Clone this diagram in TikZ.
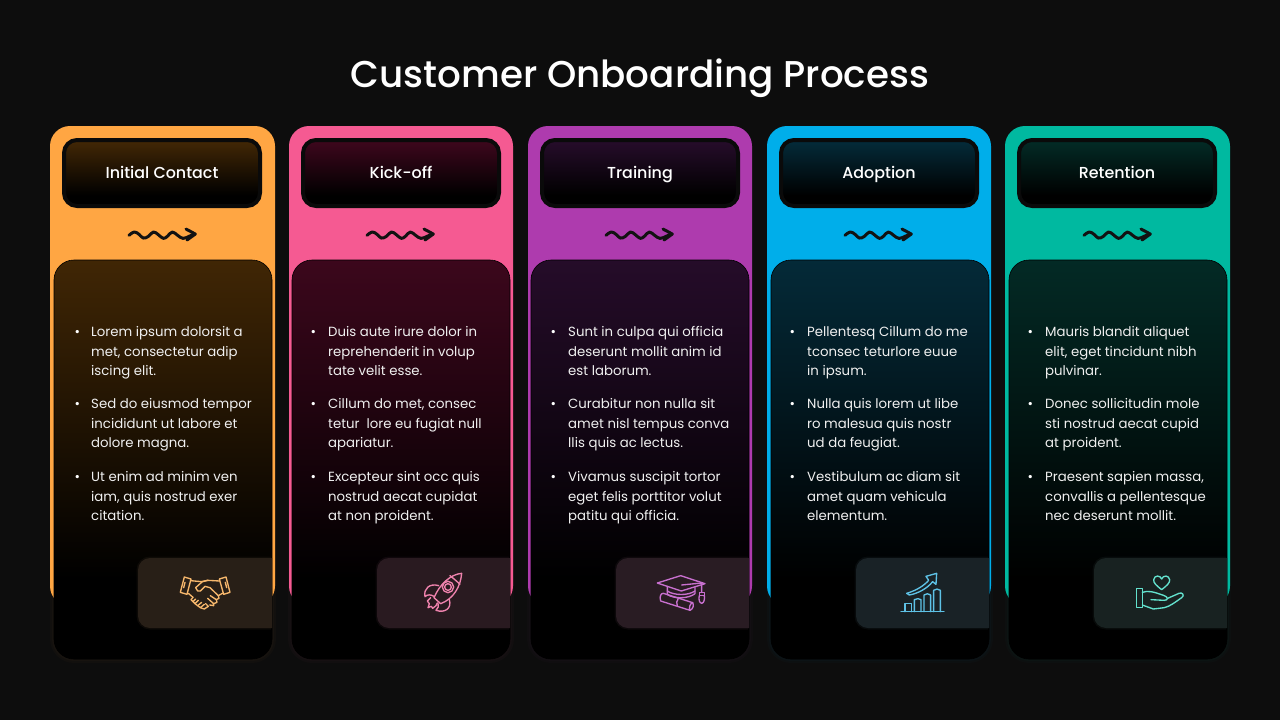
\documentclass[tikz,border=0pt]{standalone}
\usepackage{fontspec}
\setmainfont{Poppins}
\newfontfamily\medfont{Poppins Medium}
\definecolor{pagebg}{HTML}{0D0D0D}
\definecolor{orangeC}{HTML}{FFA643}\definecolor{orangeT}{HTML}{402605}\definecolor{orangeB}{HTML}{281F17}\definecolor{orangeI}{HTML}{F6B76C}
\definecolor{pinkC}{HTML}{F55A92}\definecolor{pinkT}{HTML}{3C071C}\definecolor{pinkB}{HTML}{291A20}\definecolor{pinkI}{HTML}{EE82AD}
\definecolor{purpleC}{HTML}{AE3BAE}\definecolor{purpleT}{HTML}{250C29}\definecolor{purpleB}{HTML}{291C23}\definecolor{purpleI}{HTML}{C870CF}
\definecolor{blueC}{HTML}{00AEEA}\definecolor{blueT}{HTML}{042A38}\definecolor{blueB}{HTML}{192226}\definecolor{blueI}{HTML}{5EC2E6}
\definecolor{tealC}{HTML}{00B9A0}\definecolor{tealT}{HTML}{032A25}\definecolor{tealB}{HTML}{182221}\definecolor{tealI}{HTML}{63E2CE}
\colorlet{tintc}{orangeT}
\pgfdeclareverticalshading[tintc]{panelshade}{100bp}{color(0bp)=(black); color(35bp)=(black); color(75bp)=(tintc); color(100bp)=(tintc)}
\pgfdeclareverticalshading[tintc]{headshade}{100bp}{color(0bp)=(black); color(33bp)=(black); color(73bp)=(tintc); color(100bp)=(tintc)}
\tikzset{
  x=1pt,y=-1pt,
  cardshape/.style={rounded corners=20pt},
  panelshape/.style={rounded corners=20pt,shading=panelshade,draw=black,line width=.6pt},
  headshape/.style={rounded corners=13pt,shading=headshade,draw=black!96!white,line width=4pt},
  headlabel/.style={font=\medfont\fontsize{15.9}{20}\selectfont,text=white,inner sep=0pt,anchor=base},
  wave/.style={draw=black!93!white,line width=3pt,line cap=round,line join=round},
  bodytext/.style={font=\fontsize{13.3}{19.5}\selectfont,text=white!94!black,align=left,anchor=north west,inner sep=0pt},
  bulletmark/.style={font=\fontsize{13.3}{19.5}\selectfont,text=white,anchor=north west,inner sep=0pt},
  iconline/.style={line width=1.35pt,line cap=round,line join=round},
}
% #1 id, #2 colour stem, #3 card left, #4 card right, #5 panel left, #6 header left, #7 arrow left, #8 icon-box left, #9 title
\newcommand\stagecard[9]{%
  \colorlet{tintc}{#2T}
  \fill[#2C!2!pagebg,rounded corners=24pt] (#5-4,400) rectangle (#5+222,663);
  \fill[#2C!4!pagebg,rounded corners=22pt] (#5-2,400) rectangle (#5+220,661);
  \path[fill=#2C,cardshape] (#3,126) rectangle (#4,606);
  \path[headshape] (#6+2,140) rectangle (#6+198,206);
  \node[headlabel] (#1title) at (#6+100,178) {#9};
  \draw[wave,shift={(#7-13,220.7)},scale=.3333]
    plot[smooth,tension=.75] coordinates {(42,44)(58,34)(72,41)(85,52)(100,47)(115,34)(130,42)(145,53)(158,46)(172,34)(188,44)(204,53)(222,47)(238,40)};
  \draw[wave,shift={(#7-13,220.7)},scale=.3333] (213,25)--(241,40)--(216,58);
  \path[panelshape] (#5,260) rectangle (#5+218,659);
  \draw[#2B,opacity=.3,line width=3pt,rounded corners=12pt] (#5+217,558) -- (#8,558) -- (#8,628) -- (#5+217,628);
  \fill[#2B] (#5+218,558) [rounded corners=12pt] -- (#8,558) -- (#8,628) [sharp corners] -- (#5+218,628) -- cycle;
}
% #1 id #2 bullet x #3 text x #4 #5 #6 paragraphs
\newcommand\stagetext[6]{%
  \node[bulletmark] (#1ba) at (#2,326) {\rule{0pt}{10pt}•};
  \node[bulletmark] (#1bb) at (#2,398) {\rule{0pt}{10pt}•};
  \node[bulletmark] (#1bc) at (#2,471) {\rule{0pt}{10pt}•};
  \node[bodytext] (#1a) at (#3,326.4) {\rule{0pt}{10pt}#4};
  \node[bodytext] (#1b) at (#3,398.4) {\rule{0pt}{10pt}#5};
  \node[bodytext] (#1c) at (#3,471.4) {\rule{0pt}{10pt}#6};
}
\begin{document}
\begin{tikzpicture}
\useasboundingbox (0,0) rectangle (1280,720);
\fill[pagebg] (0,0) rectangle (1280,720);
\node[font=\medfont\fontsize{37.3}{44}\selectfont,text=white,inner sep=0pt,anchor=base] (title) at (640,87) {Customer Onboarding Process};

\stagecard{s1}{orange}{50}{275}{54}{62}{128}{138}{Initial Contact}
\stagecard{s2}{pink}{289}{513}{292}{301}{366}{377}{Kick-off}
\stagecard{s3}{purple}{528}{752}{531}{540}{605}{616}{Training}
\stagecard{s4}{blue}{767}{991}{771}{779}{844}{856}{Adoption}
\stagecard{s5}{teal}{1005}{1230}{1009}{1017}{1083}{1094}{Retention}

\stagetext{s1}{74.5}{91}{Lorem ipsum dolorsit a\\met, consectetur adip\\iscing elit.}{Sed do eiusmod tempor\\incididunt ut labore et\\dolore magna.}{Ut enim ad minim ven\\iam, quis nostrud exer\\citation.}
\stagetext{s2}{310.5}{328}{Duis aute irure dolor in\\reprehenderit in volup\\tate velit esse.}{Cillum do met, consec\\tetur\ \ lore eu fugiat null\\apariatur.}{Excepteur sint occ quis\\nostrud aecat cupidat\\at non proident.}
\stagetext{s3}{550.5}{568}{Sunt in culpa qui officia\\deserunt mollit anim id\\est laborum.}{Curabitur non nulla sit\\amet nisl tempus conva\\llis quis ac lectus.}{Vivamus suscipit tortor\\eget felis porttitor volut\\patitu qui officia.}
\stagetext{s4}{789.5}{807}{Pellentesq Cillum do me\\tconsec teturlore euue\\in ipsum.}{Nulla quis lorem ut libe\\ro malesua quis nostr\\ud da feugiat.}{Vestibulum ac diam sit\\amet quam vehicula\\elementum.}
\stagetext{s5}{1027.5}{1045}{Mauris blandit aliquet\\elit, eget tincidunt nibh\\pulvinar.}{Donec sollicitudin mole\\sti nostrud aecat cupid\\at proident.}{Praesent sapien massa,\\convallis a pellentesque\\nec deserunt mollit.}

% handshake (coordinates: 3x crop of the icon)
\begin{scope}[shift={(165,565)},scale=.3333,iconline,draw=orangeI]
  \draw (58,36)--(78,42)--(66,88)--(46,82)--cycle;
  \draw (60,52)--(56,68);
  \draw (163,42)--(183,36)--(195,82)--(176,88)--cycle;
  \draw (181,52)--(185,68);
  \draw (77,47)--(110,50)--(128,46)--(164,48);
  \draw (128,46)--(112,50)--(92,68)--(98,78)--(106,78)--(120,64)--(135,68)--(160,92);
  \draw (70,85)--(84,97);
  \draw (174,84)--(160,92)--(162,100)--(154,104)--(156,112)--(146,116)--(146,122)--(134,120);
  \draw (84,97)--(78,104)--(84,110)--(92,102);
  \draw (84,110)--(90,116)--(100,106);
  \draw (90,116)--(98,122)--(110,112);
  \draw (98,122)--(106,128)--(118,118);
  \draw (106,128)--(118,132)--(130,124)--(122,116);
  \draw (136,92)--(154,104);
  \draw (128,100)--(146,116);
\end{scope}
% rocket
\begin{scope}[shift={(370,555)},scale=.3333,iconline,draw=pinkI]
  \draw (275,55) .. controls (240,58) and (208,90) .. (192,128) -- (212,146) .. controls (250,132) and (272,95) .. (275,55) -- cycle;
  \draw (240,62) .. controls (250,70) and (262,80) .. (270,88);
  \draw (234,96) circle (17);
  \draw (234,96) circle (10);
  \draw (206,92) .. controls (180,84) and (160,100) .. (165,125) .. controls (172,118) and (182,118) .. (192,124);
  \draw (238,134) .. controls (246,160) and (225,175) .. (198,166) .. controls (206,160) and (206,152) .. (204,144);
  \draw (182,128) -- (172,138) -- (178,146) -- (174,158) -- (184,154) -- (188,160) -- (198,152) -- (202,144);
\end{scope}
% graduation cap
\begin{scope}[shift={(610,555)},scale=.3333,iconline,draw=purpleI]
  \draw (142,84)--(212,62)--(285,86)--(214,108)--cycle;
  \draw (215,90)--(275,84)--(275,110);
  \draw (172,94)--(172,118) .. controls (190,132) and (235,132) .. (255,116)--(255,98);
  \draw (172,108) .. controls (192,122) and (235,122) .. (255,108);
  \draw (268,112) rectangle (283,122);
  \draw (268,122) .. controls (265,130) and (268,145) .. (275,145) .. controls (282,145) and (285,130) .. (283,122);
  \draw (160,115)--(248,143) .. controls (240,146) and (236,158) .. (240,166)--(152,138) .. controls (148,125) and (152,115) .. (160,115) -- cycle;
  \draw (248,143) .. controls (252,150) and (250,162) .. (240,166);
  \draw (206,128) .. controls (200,136) and (198,146) .. (202,154);
\end{scope}
% growth chart
\begin{scope}[shift={(850,555)},scale=.3333,iconline,draw=blueI]
  \draw (153,170)--(282,170);
  \draw (165,170)--(165,145)--(185,145)--(185,170);
  \draw (193,170)--(193,134) .. controls (200,130) and (208,130) .. (213,134)--(213,170);
  \draw (222,170)--(222,120) .. controls (228,115) and (236,115) .. (242,120)--(242,170);
  \draw (251,170)--(251,106) .. controls (257,101) and (265,101) .. (271,106)--(271,170);
  \draw (170,115) .. controls (200,106) and (222,92) .. (236,76)--(228,64)--(260,55)--(258,88)--(248,80) .. controls (232,100) and (205,115) .. (178,120) -- cycle;
\end{scope}
% hand with heart
\begin{scope}[shift={(1085,555)},scale=.3333,iconline,draw=tealI]
  \draw (155,100) rectangle (172,157);
  \draw (230,104) .. controls (215,92) and (205,84) .. (206,74) .. controls (208,60) and (226,60) .. (230,72) .. controls (234,60) and (252,60) .. (254,74) .. controls (255,84) and (245,92) .. (230,104) -- cycle;
  \draw (172,112) .. controls (190,106) and (205,110) .. (238,122) .. controls (250,126) and (250,136) .. (238,136)--(198,134);
  \draw (248,130)--(282,115) .. controls (292,110) and (300,122) .. (290,128) .. controls (270,142) and (255,154) .. (238,158)--(205,162)--(172,150);
\end{scope}
\end{tikzpicture}
\end{document}
